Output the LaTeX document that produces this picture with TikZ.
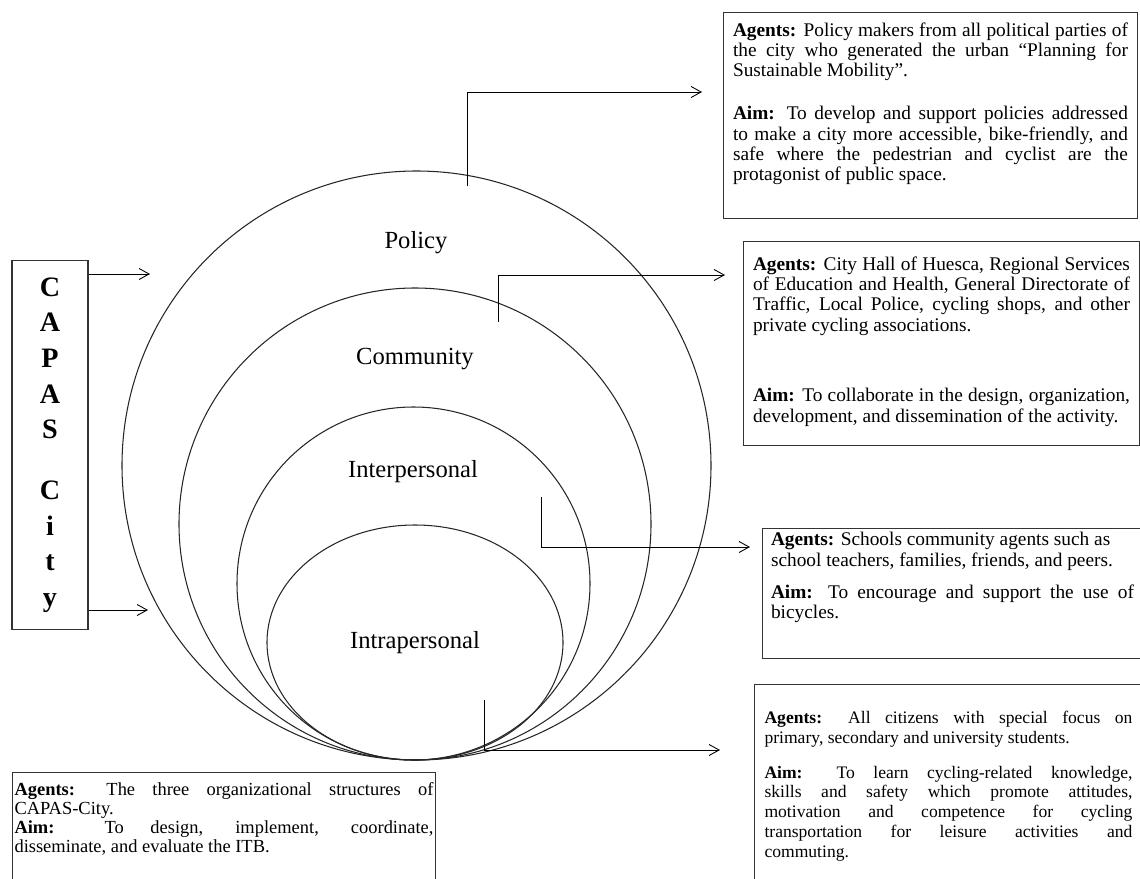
\documentclass[tikz,border=0pt]{standalone}
\usepackage{fontspec}
\setmainfont{Liberation Serif}
\usetikzlibrary{arrows.meta}

\hyphenpenalty=10000
\exhyphenpenalty=10000

\newcommand{\boxfont}{\fontsize{11}{11.6}\selectfont}
\newcommand{\lowboxfont}{\fontsize{10}{11.3}\selectfont}
\newcommand{\tightboxfont}{\fontsize{10.5}{10.9}\selectfont}
\newcommand{\ringfont}{\fontsize{14}{16}\selectfont}

\tikzset{
  ring/.style={line width=0.6pt, draw=black!85},
  ringlabel/.style={font=\ringfont, inner sep=0pt},
  agentbox/.style={draw=black!80, line width=0.6pt, anchor=north west,
    inner xsep=0.19cm, inner ysep=0.2cm, font=\boxfont},
  link/.style={line width=0.5pt, -{Straight Barb[length=2mm,width=2.2mm]}},
}

\begin{document}
\begin{tikzpicture}[x=0.02cm, y=-0.02cm]
  \useasboundingbox (0,0) rectangle (1140,879);
  \clip (0,0) rectangle (1140,879);

  % centres of the rings
  \coordinate (policyC) at (416.5,465.5);
  \coordinate (communityC) at (415,524);
  \coordinate (interC) at (413.5,583.5);
  \coordinate (intraC) at (415,642.5);

  \draw[ring] (policyC) circle [radius=294.5];
  \draw[ring] (communityC) circle [radius=236];
  \draw[ring] (interC) circle [radius=176.5];
  \draw[ring] (intraC) ellipse [x radius=148, y radius=117.5];

  \node[ringlabel] (policy) at (416,243) {Policy};
  \node[ringlabel] (community) at (415,359) {Community};
  \node[ringlabel] (interpersonal) at (413,472) {Interpersonal};
  \node[ringlabel] (intrapersonal) at (415,643) {Intrapersonal};

  % the programme
  \node[draw=black!80, line width=0.6pt, minimum width=1.52cm, minimum height=7.38cm,
    inner sep=0pt, align=center, font=\fontsize{16}{20.3}\selectfont\bfseries]
    (capas) at (50,445) {C\\A\\P\\A\\S\\[0.5cm]C\\i\\t\\y};
  \coordinate (capasTopEnd) at (150,274);
  \coordinate (capasLowEnd) at (148,610);
  \draw[link] (capas.east |- capasTopEnd) -- (capasTopEnd);
  \draw[link] (capas.east |- capasLowEnd) -- (capasLowEnd);

  % agents and aims
  \node[agentbox] (policyAgents) at (723,12) {\parbox[t][3.72cm][t]{7.9cm}{%
    \textbf{Agents:} Policy makers from all political parties of\linebreak
    the city who generated the urban “Planning for\linebreak
    Sustainable Mobility”.\par\vspace{0.45cm}
    \textbf{Aim:} To develop and support policies addressed\linebreak
    to make a city more accessible, bike-friendly, and\linebreak
    safe where the pedestrian and cyclist are the\linebreak
    protagonist of public space.}};

  \node[agentbox, inner ysep=0.3cm] (communityAgents) at (743,241) {\parbox[t][3.48cm][t]{7.54cm}{%
    \textbf{Agents:} City Hall of Huesca, Regional Services\linebreak
    of Education and Health, General Directorate of\linebreak
    Traffic, Local Police, cycling shops, and other\linebreak
    private cycling associations.\par\vspace{1.0cm}
    \textbf{Aim:} To collaborate in the design, organization,\linebreak
    development, and dissemination of the activity.}};

  \node[agentbox, inner xsep=0.17cm, inner ysep=0.08cm] (interAgents) at (762,528) {\parbox[t][2.44cm][t]{7.26cm}{%
    \textbf{Agents:} Schools community agents such as\newline
    school teachers, families, friends, and peers.\par\vspace{0.23cm}
    \textbf{Aim:} To encourage and support the use of\linebreak
    bicycles.}};

  \node[agentbox, inner xsep=0.2cm, inner ysep=0.54cm, font=\lowboxfont] (intraAgents) at (754,684) {\parbox[t][4cm][t]{7.36cm}{%
    \textbf{Agents:} All citizens with special focus on\linebreak
    primary, secondary and university students.\par\vspace{0.29cm}
    \textbf{Aim:} To learn cycling-related knowledge,\linebreak
    skills and safety which promote attitudes,\linebreak
    motivation and competence for cycling\linebreak
    transportation for leisure activities and\linebreak
    commuting.}};

  \node[agentbox, inner xsep=0.04cm, inner ysep=0.2cm, font=\tightboxfont] (capasAgents) at (12,772) {\parbox[t][3cm][t]{8.38cm}{%
    \textbf{Agents:} The three organizational structures of\linebreak
    CAPAS-City.\par
    \textbf{Aim:} To design, implement, coordinate,\linebreak
    disseminate, and evaluate the ITB.}};

  % links from the rings
  \coordinate (policyFrom) at (467,186);
  \coordinate (policyTo) at (702,92);
  \coordinate (communityFrom) at (498,322);
  \coordinate (communityTo) at (725,275);
  \coordinate (interFrom) at (541,497);
  \coordinate (interTo) at (750,547);
  \coordinate (intraFrom) at (484,700);
  \coordinate (intraTo) at (720,750);
  \draw[link] (policyFrom) |- (policyTo);
  \draw[link] (communityFrom) |- (communityTo);
  \draw[link] (interFrom) |- (interTo);
  \draw[link] (intraFrom) |- (intraTo);
\end{tikzpicture}
\end{document}
